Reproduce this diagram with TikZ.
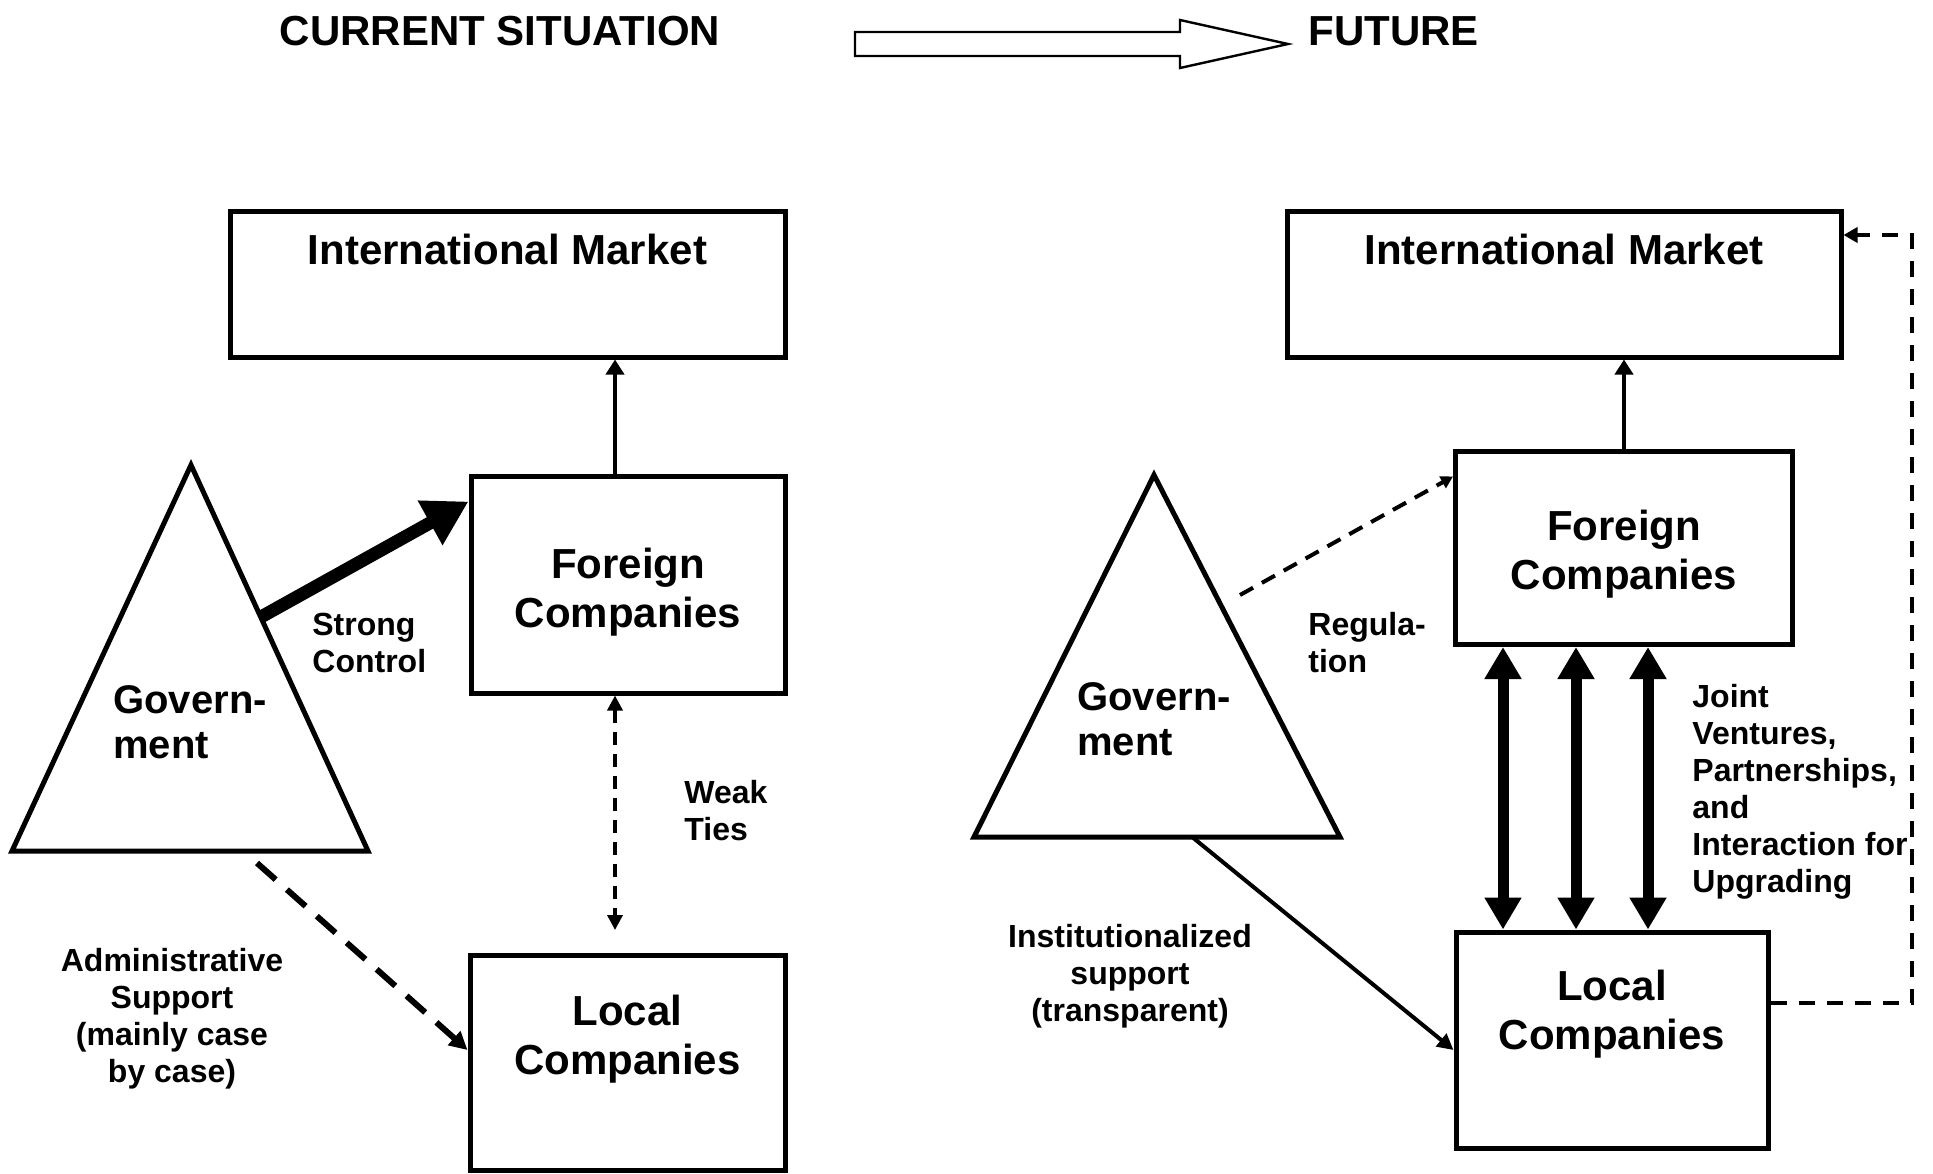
\documentclass[tikz,border=0pt]{standalone}
\usepackage{fontspec}
\setmainfont{Liberation Sans}
\usepackage{tikz}
\usetikzlibrary{arrows.meta,positioning}

\begin{document}
\begin{tikzpicture}[x=0.5pt,y=-0.5pt,
    box/.style={draw,line width=2.5pt,inner sep=0pt},
    tri/.style={draw,line width=2.5pt},
    big/.style={font=\fontsize{21}{24.5}\selectfont\bfseries,align=center,inner sep=0pt},
    gov/.style={font=\fontsize{20}{22.5}\selectfont\bfseries,align=left,inner sep=0pt,anchor=west},
    lbl/.style={font=\fontsize{16}{18.5}\selectfont\bfseries,align=left,inner sep=0pt,anchor=west},
    up/.style={line width=2pt,-{Triangle[length=7.5pt,width=9pt]}},
    strong/.style={line width=6.5pt,-{Triangle[length=22pt,width=24pt]}},
    weak/.style={line width=1.75pt,dash pattern=on 6.5pt off 4.5pt,
        {Triangle[length=7.5pt,width=7.5pt]}-{Triangle[length=7.5pt,width=7.5pt]}},
    admin/.style={line width=3pt,dash pattern=on 12.5pt off 7.5pt,-{Triangle[length=9pt,width=9pt]}},
    reg/.style={line width=2pt,dash pattern=on 7.5pt off 5pt,-{Triangle[length=6pt,width=6.5pt]}},
    tie/.style={line width=5.5pt,{Triangle[length=16pt,width=17.5pt]}-{Triangle[length=16pt,width=17.5pt]}},
    supp/.style={line width=2pt,-{Triangle[length=8pt,width=8pt]}},
    fback/.style={line width=2pt,dash pattern=on 8pt off 6pt,-{Triangle[length=7pt,width=7.5pt]}}]

    \useasboundingbox (0,0) rectangle (1933,1173);

    % headings
    \node [big] (cur) at (500,31) {CURRENT SITUATION};
    \node [big,anchor=west] (fut) at (1308,31) {FUTURE};
    \draw [line width=1.2pt] (855,32) -- (1180,32) -- (1180,20) -- (1288,44)
        -- (1180,68) -- (1180,56) -- (855,56) -- cycle;

    % current situation
    \node [box,minimum width=277.5pt,minimum height=73pt] (imL) at (507.5,284) {};
    \node [big] (imLt) at ([yshift=-20.5pt]imL.north) {International Market};
    \node [box,minimum width=157pt,minimum height=108.5pt] (fcL) at (628,584.5) {};
    \node [big] (fcLt) at ([yshift=-3.75pt]fcL.center) {Foreign\\Companies};
    \node [box,minimum width=157.5pt,minimum height=107.5pt] (lcL) at (627.5,1062.5) {};
    \node [big] (lcLt) at ([yshift=11.75pt]lcL.center) {Local\\Companies};

    \draw [tri] (191,465) coordinate (govLa) -- (368,851) coordinate (govLr) -- (12,851) coordinate (govLl) -- cycle;
    \node [gov] (govLt) at (113,722) {Govern-\\ment};
    \path (govLa) -- (govLr) coordinate [pos=0.394] (scL);
    \coordinate (adL) at (257,863);

    \coordinate (upL) at ([xshift=-6.5pt]fcL.north);
    \coordinate (wkL) at ([xshift=-6.5pt]fcL.south);
    \draw [up] (upL) -- (upL |- imL.south);
    \draw [strong] (scL) -- ([yshift=-14pt]fcL.north west);
    \draw [weak] (wkL) -- ([yshift=11.25pt]wkL |- lcL.north);
    \draw [admin] (adL) -- ([yshift=6.25pt]lcL.west);

    \node [lbl] (scLt) at (312,643) {Strong\\Control};
    \node [lbl] (wkLt) at (684,811) {Weak\\Ties};
    \node [lbl,align=center,anchor=center] (adLt) at (172,1019) {Administrative\\Support\\(mainly case\\by case)};

    % future
    \node [box,minimum width=277pt,minimum height=73pt] (imR) at (1564,284) {};
    \node [big] (imRt) at ([yshift=-20.5pt]imR.north) {International Market};
    \node [box,minimum width=168.5pt,minimum height=96.5pt] (fcR) at (1624,548) {};
    \node [big] (fcRt) at ([yshift=-3pt]fcR.center) {Foreign\\Companies};
    \node [box,minimum width=156pt,minimum height=108pt] (lcR) at (1612,1040) {};
    \node [big] (lcRt) at ([yshift=12.8pt]lcR.center) {Local\\Companies};

    \draw [tri] (1154,475) coordinate (govRa) -- (1340,837) coordinate (govRr) -- (974,837) coordinate (govRl) -- cycle;
    \node [gov] (govRt) at (1077,719) {Govern-\\ment};
    \path (govRl) -- (govRr) coordinate [pos=0.596] (isR);
    \coordinate (regR) at (1240,595);
    \coordinate (fbc) at (1912,235);

    \draw [up] (fcR.north) -- (fcR.north |- imR.south);
    \draw [reg] (regR) -- ([yshift=-13.75pt]fcR.north west);
    \foreach \x in {1503,1576,1648}
        \draw [tie] (fcR.south -| \x,0) -- (lcR.north -| \x,0);
    \draw [supp] (isR) -- ([yshift=-5pt]lcR.west);
    \draw [fback] ([yshift=18.5pt]lcR.east) -| (fbc) -- (fbc -| imR.east);

    \node [lbl] (regRt) at (1308,643) {Regula-\\tion};
    \node [lbl] (jvRt) at (1692,792) {Joint\\Ventures,\\Partnerships,\\and\\Interaction for\\Upgrading};
    \node [lbl,align=center,anchor=center] (isRt) at (1130,976) {Institutionalized\\support\\(transparent)};
\end{tikzpicture}
\end{document}
